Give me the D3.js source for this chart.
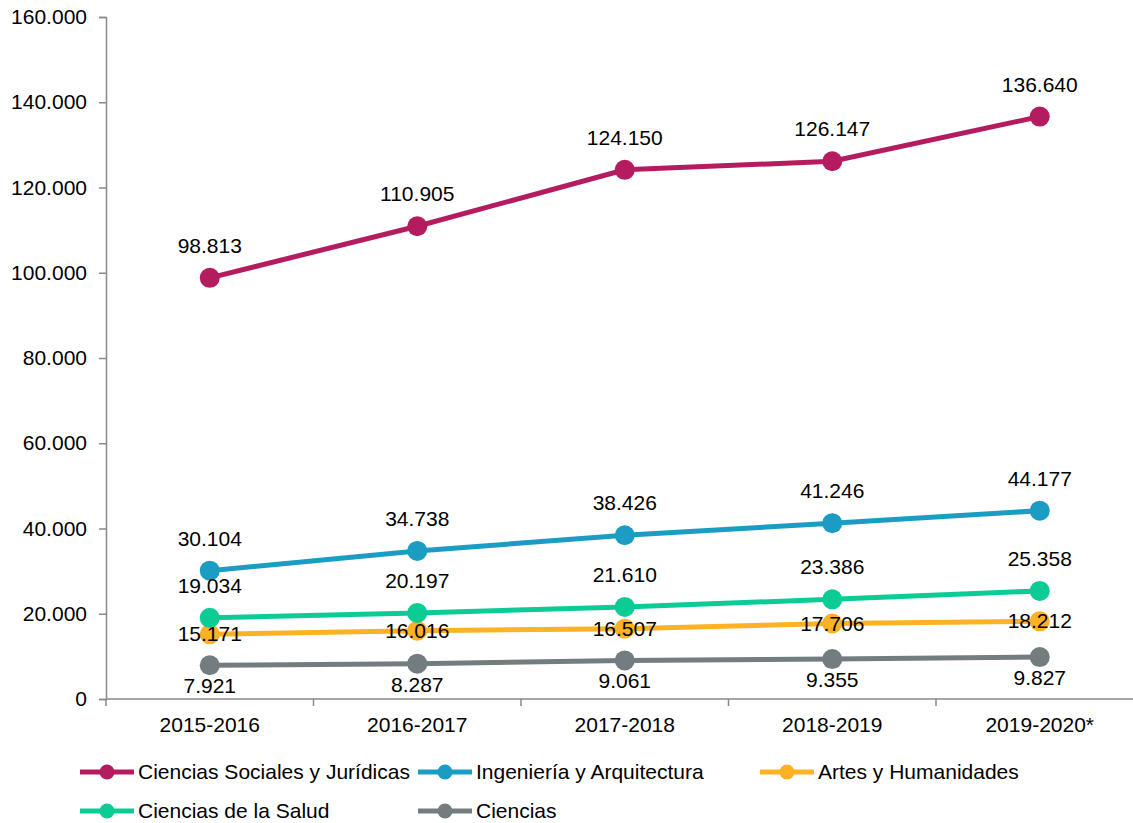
<!DOCTYPE html>
<html>
<head>
<meta charset="utf-8">
<script src="https://cdn.jsdelivr.net/npm/d3@7"></script>
<style>
  body { margin: 0; background: #fff; }
  text { font-family: "Liberation Sans", Arial, sans-serif; fill: #000; }
</style>
</head>
<body>
<div id="chart"></div>
<script>
// data
var cursos = ["2015-2016", "2016-2017", "2017-2018", "2018-2019", "2019-2020*"];
var sociales = [98813, 110905, 124150, 126147, 136640];
var ingenieria = [30104, 34738, 38426, 41246, 44177];
var artes = [15171, 16016, 16507, 17706, 18212];
var salud = [19034, 20197, 21610, 23386, 25358];
var ciencias = [7921, 8287, 9061, 9355, 9827];
var yTicks = [0, 20000, 40000, 60000, 80000, 100000, 120000, 140000, 160000];

var series = [
  { name: "Ciencias Sociales y Jurídicas", values: sociales, color: "#B51C60", pos: "above" },
  { name: "Ingeniería y Arquitectura", values: ingenieria, color: "#1B9DC3", pos: "above" },
  { name: "Artes y Humanidades", values: artes, color: "#FDB124", pos: "center" },
  { name: "Ciencias de la Salud", values: salud, color: "#0CCB95", pos: "above" },
  { name: "Ciencias", values: ciencias, color: "#737D80", pos: "below" }
];

var fs = 21;
var W = 1133, H = 823;
var margin = { top: 17, left: 106, bottom: 124 };
var plotH = H - margin.top - margin.bottom;

var svg = d3.select("#chart").append("svg")
  .attr("width", W)
  .attr("height", H);

var x = d3.scalePoint()
  .domain(cursos)
  .range([margin.left + 103.75, margin.left + 103.75 + 4 * 207.5]);

var y = d3.scaleLinear()
  .domain([0, 160000])
  .range([margin.top + plotH, margin.top]);

var fmt = function(v) { return d3.format(",")(v).replace(/,/g, "."); };

// y axis
var axisY = d3.axisLeft(y)
  .tickValues(yTicks)
  .tickSize(7)
  .tickPadding(12)
  .tickFormat(fmt);
var gy = svg.append("g")
  .attr("transform", "translate(" + margin.left + ",0)")
  .call(axisY);
gy.select(".domain").attr("stroke", "#898989").attr("stroke-width", 1.5);
gy.selectAll(".tick line").attr("stroke", "#898989").attr("stroke-width", 1.5);
gy.selectAll("text").attr("font-size", fs).attr("fill", "#000");

// x axis (band boundaries as ticks)
var step = 207.5;
var xAxisY = y(0);
svg.append("line")
  .attr("x1", margin.left).attr("x2", margin.left + 5 * step)
  .attr("y1", xAxisY).attr("y2", xAxisY)
  .attr("stroke", "#898989").attr("stroke-width", 1.5);
d3.range(6).forEach(function(i) {
  svg.append("line")
    .attr("x1", margin.left + i * step).attr("x2", margin.left + i * step)
    .attr("y1", xAxisY).attr("y2", xAxisY + 7)
    .attr("stroke", "#898989").attr("stroke-width", 1.5);
});
svg.append("g").selectAll("text")
  .data(cursos)
  .enter().append("text")
  .attr("x", function(d) { return x(d); })
  .attr("y", xAxisY + 33)
  .attr("text-anchor", "middle")
  .attr("font-size", fs)
  .text(function(d) { return d; });

// lines
var line = d3.line()
  .x(function(d, i) { return x(cursos[i]); })
  .y(function(d) { return y(d); });

series.forEach(function(s) {
  var g = svg.append("g");
  g.append("path")
    .datum(s.values)
    .attr("fill", "none")
    .attr("stroke", s.color)
    .attr("stroke-width", 5)
    .attr("d", line);
  g.selectAll("circle")
    .data(s.values)
    .enter().append("circle")
    .attr("cx", function(d, i) { return x(cursos[i]); })
    .attr("cy", function(d) { return y(d); })
    .attr("r", 10)
    .attr("fill", s.color);
});

// data labels
series.forEach(function(s) {
  svg.append("g").selectAll("text")
    .data(s.values)
    .enter().append("text")
    .attr("x", function(d, i) { return x(cursos[i]); })
    .attr("y", function(d) {
      if (s.pos == "above") return y(d) - 25;
      if (s.pos == "below") return y(d) + 28;
      return y(d) + 7;
    })
    .attr("text-anchor", "middle")
    .attr("font-size", fs)
    .text(function(d) { return fmt(d); });
});

// legend
var legendPos = [[80, 772], [418, 772], [760, 772], [80, 811], [418, 811]];
series.forEach(function(s, i) {
  var p = legendPos[i];
  var g = svg.append("g").attr("transform", "translate(" + p[0] + "," + p[1] + ")");
  g.append("line")
    .attr("x1", 0).attr("x2", 54)
    .attr("y1", 0).attr("y2", 0)
    .attr("stroke", s.color)
    .attr("stroke-width", 5);
  g.append("circle")
    .attr("cx", 27).attr("cy", 0).attr("r", 7.5)
    .attr("fill", s.color);
  g.append("text")
    .attr("x", 58).attr("y", 7)
    .attr("font-size", fs)
    .text(s.name);
});
</script>
</body>
</html>
